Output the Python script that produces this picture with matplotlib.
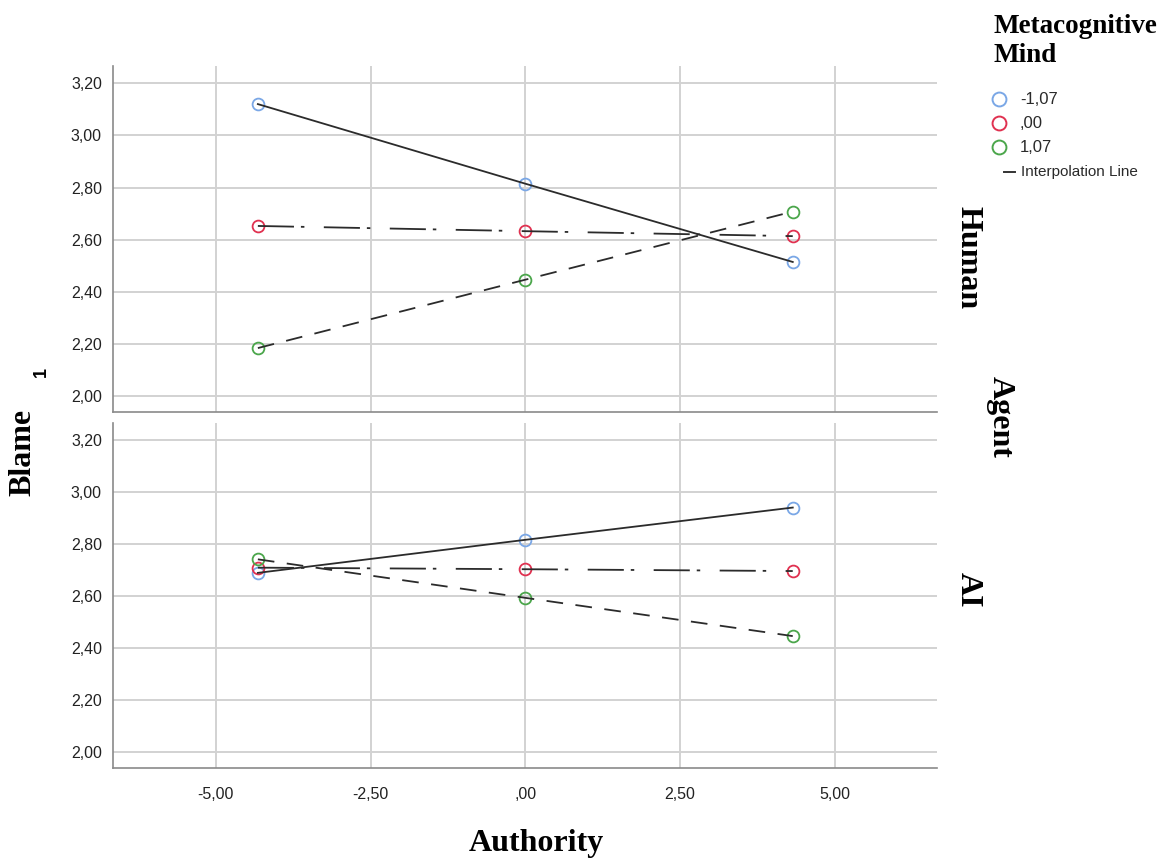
import matplotlib
matplotlib.use("Agg")
import matplotlib.pyplot as plt
from matplotlib.lines import Line2D
from matplotlib.ticker import FixedLocator, FuncFormatter

# ---- data ----
authority = [-4.32, 0.0, 4.32]
mind_levels = ["-1,07", ",00", "1,07"]
human_neg = [3.120, 2.815, 2.515]
human_zero = [2.653, 2.633, 2.614]
human_pos = [2.185, 2.447, 2.708]
ai_neg = [2.690, 2.817, 2.941]
ai_zero = [2.710, 2.704, 2.697]
ai_pos = [2.742, 2.594, 2.447]
x_ticks = [-5.0, -2.5, 0.0, 2.5, 5.0]
y_ticks = [2.0, 2.2, 2.4, 2.6, 2.8, 3.0, 3.2]
panels = ["Human", "AI"]

colors = ["#7aa7e6", "#e03150", "#4ba64b"]
plt.rcParams['lines.scale_dashes'] = False
styles = ["-", (0, (26, 5, 2.5, 14)), (0, (12, 9))]

W, H = 1164, 860
fig = plt.figure(figsize=(W / 100, H / 100), dpi=100)

def px(x, y):
    return x / W, 1 - y / H

SANS = "Liberation Sans"
SERIF = "Liberation Serif"

def fmt(v, pos=None):
    s = f"{v:.2f}".replace(".", ",")
    if s.startswith("0,"):
        s = s[1:]
    if s == "-0,00":
        s = ",00"
    return s

left, right = 113 / W, 937 / W
ax_top = fig.add_axes([left, 1 - 412 / H, right - left, (412 - 66) / H])
ax_bot = fig.add_axes([left, 1 - 768 / H, right - left, (768 - 423) / H])

data = [[human_neg, human_zero, human_pos], [ai_neg, ai_zero, ai_pos]]
for ax, series in zip([ax_top, ax_bot], data):
    ax.set_xlim(-6.66, 6.65)
    ax.set_ylim(1.94, 3.266)
    ax.xaxis.set_major_locator(FixedLocator(x_ticks))
    ax.yaxis.set_major_locator(FixedLocator(y_ticks))
    ax.xaxis.set_major_formatter(FuncFormatter(fmt))
    ax.yaxis.set_major_formatter(FuncFormatter(fmt))
    ax.grid(True, color="#d2d2d2", linewidth=1.4, zorder=0)
    ax.set_axisbelow(True)
    for s in ["top", "right"]:
        ax.spines[s].set_visible(False)
    for s in ["left", "bottom"]:
        ax.spines[s].set_color("#8a8a8a")
        ax.spines[s].set_linewidth(1.2)
    ax.tick_params(length=0, labelsize=11.5, colors="#222222", pad=8)
    for lab in ax.get_xticklabels() + ax.get_yticklabels():
        lab.set_fontfamily(SANS)
    for vals, c, ls in zip(series, colors, styles):
        ax.plot(authority, vals, linestyle="none", marker="o", markersize=8.5,
                markerfacecolor="none", markeredgecolor=c, markeredgewidth=1.3, zorder=3)
        ax.plot(authority, vals, linestyle=ls, color="#2b2b2b", linewidth=1.3, zorder=4)

ax_top.tick_params(labelbottom=False)
ax_bot.tick_params(axis="x", pad=14)

# axis titles
fig.text(*px(536, 843), "Authority", fontfamily=SERIF, fontweight="bold", fontsize=23,
         ha="center", va="center")
fig.text(*px(23, 452), "Blame", fontfamily=SERIF, fontweight="bold", fontsize=23,
         ha="center", va="center", rotation=90)
fig.text(*px(41, 372), "1", fontfamily=SANS, fontweight="bold", fontsize=13,
         ha="center", va="center", rotation=90)

# facet labels
fig.text(*px(968, 258), panels[0], fontfamily=SERIF, fontweight="bold", fontsize=23,
         ha="center", va="center", rotation=-90)
fig.text(*px(1000, 417), "Agent", fontfamily=SERIF, fontweight="bold", fontsize=23,
         ha="center", va="center", rotation=-90)
fig.text(*px(968, 590), panels[1], fontfamily=SERIF, fontweight="bold", fontsize=23,
         ha="center", va="center", rotation=-90)

# legend
fig.text(*px(993, 14), "Metacognitive\nMind", fontfamily=SERIF, fontweight="bold",
         fontsize=19.5, ha="left", va="top", linespacing=1.2)
for i, (lab, c) in enumerate(zip(mind_levels, colors)):
    y = 99 + 24 * i
    fig.add_artist(Line2D([999 / W], [1 - y / H], marker="o", markersize=10,
                          markerfacecolor="none", markeredgecolor=c,
                          markeredgewidth=1.4, linestyle="none"))
    fig.text(*px(1020, y), lab, fontfamily=SANS, fontsize=12, ha="left", va="center",
             color="#2a2a2a")
fig.add_artist(Line2D([1004 / W, 1015 / W], [1 - 172 / H, 1 - 172 / H], color="#333333",
                      linewidth=1.4))
fig.text(*px(1021, 172), "Interpolation Line", fontfamily=SANS, fontsize=11,
         ha="left", va="center", color="#2a2a2a")

fig.savefig("out.png", dpi=100)
